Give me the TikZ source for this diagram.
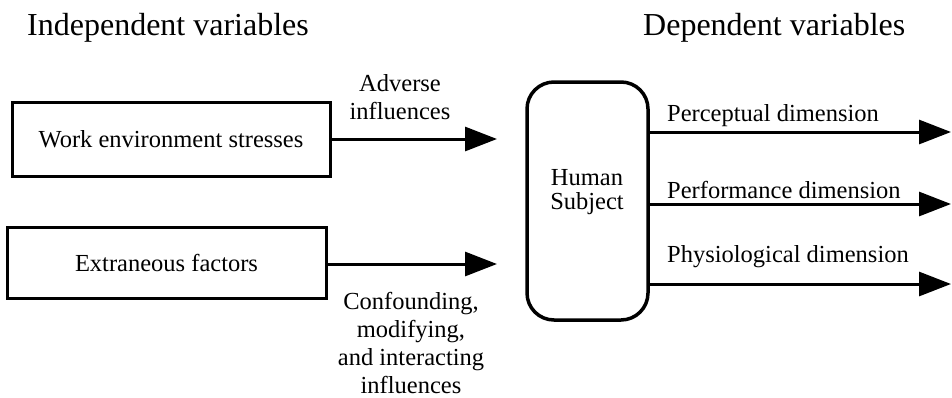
\documentclass[tikz,border=0pt]{standalone}
\usepackage{fontspec}
\setmainfont{Liberation Serif}
\usetikzlibrary{arrows.meta}

\tikzset{
  txt/.style={font=\fontsize{24.5}{28}\selectfont, inner sep=0pt},
  head/.style={font=\fontsize{32}{36}\selectfont, inner sep=0pt},
  varbox/.style={draw, line width=3pt, inner sep=0pt, txt},
  flow/.style={line width=3pt, -{Triangle[length=32pt,width=24pt]}},
}

\begin{document}
\begin{tikzpicture}[x=1pt,y=-1pt]
  \useasboundingbox (0,0) rectangle (952,397);

  % column headings
  \node[head, anchor=base west] (indep) at (27,35) {Independent variables};
  \node[head, anchor=base west] (dep) at (643,35) {Dependent variables};

  % independent side
  \node[varbox, minimum width=318pt, minimum height=74pt] (work) at (171,139) {Work environment stresses};
  \node[varbox, minimum width=319pt, minimum height=71pt] (extra) at (166.5,262.5) {Extraneous factors};

  \coordinate (adv) at (497,139);
  \coordinate (conf) at (497,264);
  \draw[flow] (work.east) -- (adv);
  \draw[flow] (extra.east |- conf) -- (conf);

  \node[txt, align=center] (adv-lab) at (400,97) {Adverse\\influences};
  \node[txt, align=center] (conf-lab) at (411,343) {Confounding,\\modifying,\\and interacting\\influences};

  % the subject
  \node[draw, line width=3.5pt, rounded corners=27pt, minimum width=121pt, minimum height=238pt] (human) at (587.5,201) {};
  \node[txt, font=\fontsize{24.5}{24}\selectfont, align=center] (human-lab) at (587,192) {Human\\Subject};

  % dependent side
  \foreach \name/\ay/\ly/\lab in {perc/132/116/Perceptual dimension,
                                  perf/204/190/Performance dimension,
                                  phys/284/257/Physiological dimension} {
    \coordinate (\name) at (951,\ay);
    \draw[flow] (human.east |- \name) -- (\name);
    \node[txt, anchor=west] (\name-lab) at (667,\ly) {\lab};
  }
\end{tikzpicture}
\end{document}
